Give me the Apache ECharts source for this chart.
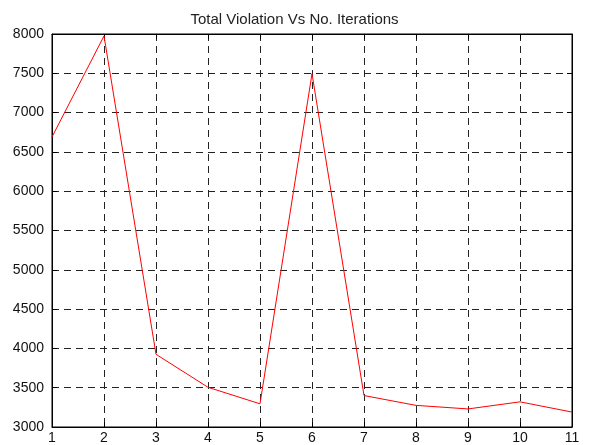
<!DOCTYPE html>
<html>
<head>
<meta charset="utf-8">
<script src="https://cdn.jsdelivr.net/npm/echarts@6/dist/echarts.min.js"></script>
<style>html,body{margin:0;padding:0;background:#fff;}#c{width:589px;height:445px;}</style>
</head>
<body>
<div id="c"></div>
<script>
var iterations = [1, 2, 3, 4, 5, 6, 7, 8, 9, 10, 11];
var violation = [6690, 7975, 3925, 3505, 3295, 7495, 3400, 3275, 3230, 3320, 3190];
var titleText = 'Total Violation Vs No. Iterations';

var chart = echarts.init(document.getElementById('c'));
var font = 'Liberation Sans, Arial, sans-serif';
var gridDash = {color: '#222', type: [7, 5], width: 1};
function plain(v) { return String(v); }
chart.setOption({
  animation: false,
  backgroundColor: '#fff',
  title: {text: titleText, left: 'center', top: 7, textStyle: {fontFamily: font, fontSize: 15, fontWeight: 'normal', color: '#222'}},
  grid: {left: 52, right: 17, top: 34, bottom: 18, show: true, borderColor: '#000', borderWidth: 1},
  xAxis: [{
    type: 'value', min: 1, max: 11, interval: 1,
    axisLine: {show: true, lineStyle: {color: '#000'}},
    axisTick: {show: true, inside: true, length: 5, lineStyle: {color: '#000'}},
    axisLabel: {fontFamily: font, fontSize: 14, color: '#111', margin: 4, formatter: plain},
    splitLine: {show: true, lineStyle: gridDash}
  }, {
    type: 'value', min: 1, max: 11, interval: 1, position: 'top',
    axisLine: {show: true, lineStyle: {color: '#000'}},
    axisTick: {show: true, inside: true, length: 5, lineStyle: {color: '#000'}},
    axisLabel: {show: false}, splitLine: {show: false}
  }],
  yAxis: [{
    type: 'value', min: 3000, max: 8000, interval: 500,
    axisLine: {show: true, lineStyle: {color: '#000'}},
    axisTick: {show: true, inside: true, length: 5, lineStyle: {color: '#000'}},
    axisLabel: {fontFamily: font, fontSize: 14, color: '#111', margin: 8, formatter: plain},
    splitLine: {show: true, lineStyle: gridDash}
  }, {
    type: 'value', min: 3000, max: 8000, interval: 500, position: 'right',
    axisLine: {show: true, lineStyle: {color: '#000'}},
    axisTick: {show: true, inside: true, length: 5, lineStyle: {color: '#000'}},
    axisLabel: {show: false}, splitLine: {show: false}
  }],
  series: [{
    type: 'line',
    data: iterations.map(function (x, i) { return [x, violation[i]]; }),
    showSymbol: false,
    lineStyle: {color: '#ff0000', width: 1},
    itemStyle: {color: '#ff0000'}
  }]
});
</script>
</body>
</html>
